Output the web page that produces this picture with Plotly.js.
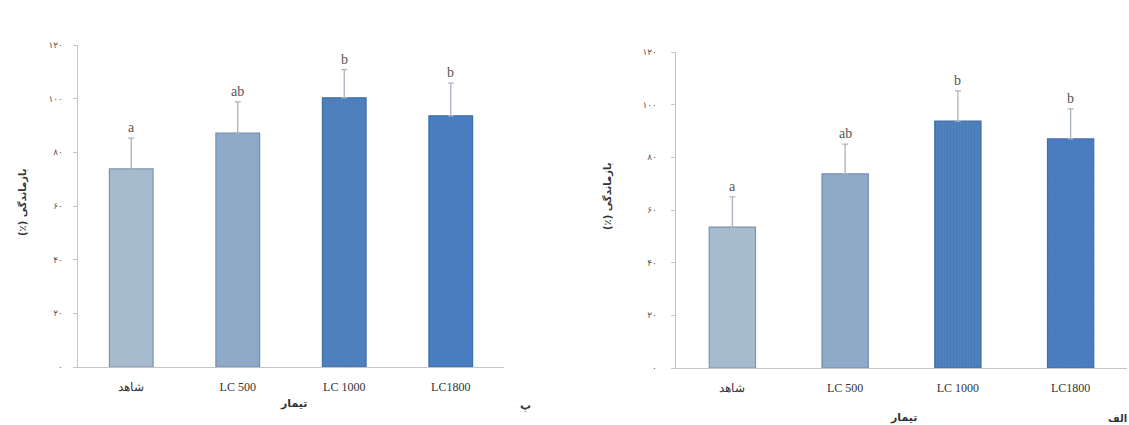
<!DOCTYPE html>
<html>
<head>
<meta charset="utf-8">
<script src="https://cdn.plot.ly/plotly-3.0.1.min.js"></script>
<style>html,body{margin:0;padding:0;background:#fff;}#chart{width:1129px;height:425px;}</style>
</head>
<body>
<div id="chart"></div>
<script>
const categories = ['شاهد', 'LC 500', 'LC 1000', 'LC1800'];
const valuesP = [73.8, 87.2, 100.3, 93.6];      // panel پ (left)
const errorsP = [11.5, 11.6, 10.5, 12.2];
const lettersP = ['a', 'ab', 'b', 'b'];
const valuesAlef = [53.5, 73.7, 93.8, 87.0];    // panel الف (right)
const errorsAlef = [11.5, 11.3, 11.4, 11.4];
const lettersAlef = ['a', 'ab', 'b', 'b'];
const yTickVals = [0, 20, 40, 60, 80, 100, 120];
const yTickText = ['۰', '۲۰', '۴۰', '۶۰', '۸۰', '۱۰۰', '۱۲۰'];
const yTitle = '(٪) بازماندگی';
const xTitle = 'تیمار';

const barColors = ['#a6bbce', '#8eaac8', '#4f81bd', '#4a7ec1'];
const lineColors = ['#7b93ab', '#6f8db2', '#3f6ea8', '#3d6eaf'];
const patternsRight = [
  {shape: ''},
  {shape: ''},
  {shape: '|', fillmode: 'overlay', bgcolor: '#4f81bd', fgcolor: '#4675ae', size: 3, solidity: 0.35},
  {shape: 'x', fillmode: 'overlay', bgcolor: '#4a7ec1', fgcolor: '#3f72b2', size: 4, solidity: 0.25}
];
const patternsLeft = [
  {shape: ''},
  {shape: ''},
  {shape: '.', fillmode: 'overlay', bgcolor: '#4f81bd', fgcolor: '#4676b0', size: 3, solidity: 0.3},
  {shape: 'x', fillmode: 'overlay', bgcolor: '#4a7ec1', fgcolor: '#3f72b2', size: 4, solidity: 0.25}
];

const serif = '"Liberation Serif", "Times New Roman", serif';
const fa = '"DejaVu Sans", "Noto Sans", sans-serif';

function makeTraces(vals, errs, xa, ya, pats) {
  return vals.map((v, i) => ({
    type: 'bar',
    x: [categories[i]],
    y: [v],
    xaxis: xa, yaxis: ya,
    width: 0.41,
    marker: {color: barColors[i], line: {color: lineColors[i], width: 1.2}, pattern: pats[i]},
    error_y: {type: 'data', symmetric: false, array: [errs[i]], arrayminus: [0], color: '#a9b4bf', thickness: 1.3, width: 3},
    showlegend: false,
    hoverinfo: 'skip'
  }));
}

const traces = [
  ...makeTraces(valuesP, errorsP, 'x', 'y', patternsLeft),
  ...makeTraces(valuesAlef, errorsAlef, 'x2', 'y2', patternsRight)
];

const annotations = [];
function addLetters(vals, errs, letters, xref, yref) {
  vals.forEach((v, i) => {
    annotations.push({
      x: categories[i], y: v + errs[i], xref: xref, yref: yref,
      text: letters[i], showarrow: false, yanchor: 'bottom', yshift: 1,
      font: {family: serif, size: 14, color: '#555'}
    });
  });
}
addLetters(valuesP, errorsP, lettersP, 'x', 'y');
addLetters(valuesAlef, errorsAlef, lettersAlef, 'x2', 'y2');

function paperText(x, y, text, size, angle) {
  return {xref: 'paper', yref: 'paper', x: x/1129, y: 1 - y/425, text: text, showarrow: false,
    xanchor: 'center', yanchor: 'middle', textangle: angle || 0,
    font: {family: fa, size: size, color: '#333', weight: 'bold'}};
}
annotations.push(
  paperText(22, 203, yTitle, 10, -90),
  paperText(607, 197, yTitle, 10, -90),
  paperText(293, 403, xTitle, 11),
  paperText(903, 417, xTitle, 11),
  paperText(525, 405, 'پ', 11),
  paperText(1117, 418, 'الف', 10)
);

const axisCommon = {
  showgrid: false, zeroline: false, showline: true, linecolor: '#c4c4c4', linewidth: 1.3
};

const layout = {
  width: 1129, height: 425,
  margin: {l: 0, r: 0, t: 0, b: 0},
  paper_bgcolor: '#fff', plot_bgcolor: 'rgba(0,0,0,0)',
  xaxis: Object.assign({}, axisCommon, {domain: [78/1129, 504/1129], anchor: 'y',
    categoryorder: 'array', categoryarray: categories, ticks: '',
    tickfont: {family: serif, size: 12, color: '#333'}, ticklabelstandoff: 8}),
  yaxis: Object.assign({}, axisCommon, {domain: [(425-367)/425, (425-45)/425], anchor: 'x', range: [0, 120],
    tickvals: yTickVals, ticktext: yTickText, ticks: 'outside', ticklen: 4, tickcolor: '#c4c4c4',
    tickfont: {family: fa, size: 9, color: '#555'}, ticklabelstandoff: 8}),
  xaxis2: Object.assign({}, axisCommon, {domain: [676/1129, 1127/1129], anchor: 'y2',
    categoryorder: 'array', categoryarray: categories, ticks: '',
    tickfont: {family: serif, size: 12, color: '#333'}, ticklabelstandoff: 8}),
  yaxis2: Object.assign({}, axisCommon, {domain: [(425-368)/425, (425-52)/425], anchor: 'x2', range: [0, 120],
    tickvals: yTickVals, ticktext: yTickText, ticks: 'outside', ticklen: 4, tickcolor: '#c4c4c4',
    tickfont: {family: fa, size: 9, color: '#555'}, ticklabelstandoff: 12}),
  annotations: annotations
};

Plotly.newPlot('chart', traces, layout, {staticPlot: true, displayModeBar: false});
</script>
</body>
</html>
